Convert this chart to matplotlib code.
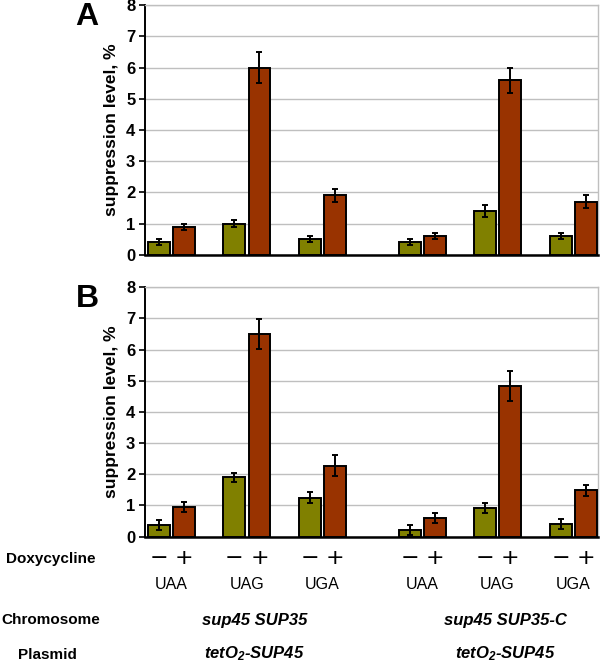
import matplotlib.pyplot as plt
import numpy as np

plt.rcParams['font.family'] = ['Liberation Sans', 'DejaVu Sans']
plt.rcParams['mathtext.fontset'] = 'custom'
plt.rcParams['mathtext.it'] = 'Liberation Sans:bold:italic'
plt.rcParams['mathtext.rm'] = 'Liberation Sans:bold:italic'

codons = ["UAA", "UAG", "UGA", "UAA", "UAG", "UGA"]
strains = ["sup45 SUP35", "sup45 SUP35-C"]
plasmid = r"$tetO_2$-SUP45"

# panel A
a_minus = [0.4, 1.0, 0.5, 0.4, 1.4, 0.6]
a_minus_err = [0.1, 0.1, 0.1, 0.1, 0.2, 0.1]
a_plus = [0.9, 6.0, 1.9, 0.6, 5.6, 1.7]
a_plus_err = [0.1, 0.5, 0.2, 0.1, 0.4, 0.2]

# panel B
b_minus = [0.37, 1.9, 1.25, 0.21, 0.92, 0.4]
b_minus_err = [0.17, 0.15, 0.17, 0.16, 0.17, 0.16]
b_plus = [0.94, 6.5, 2.28, 0.6, 4.84, 1.49]
b_plus_err = [0.16, 0.47, 0.33, 0.17, 0.48, 0.17]

green = "#808000"
red = "#993300"

x = np.array([0, 1, 2, 3.32, 4.32, 5.32])
w = 0.29
off = 0.166

fig = plt.figure(figsize=(6, 6.65), dpi=100)
axA = fig.add_axes([0.2417, 0.617, 0.755, 0.375])
axB = fig.add_axes([0.2417, 0.193, 0.755, 0.375])


def draw(ax, mn, mn_e, pl, pl_e, letter, ly):
    ek = dict(elinewidth=1.4, capthick=1.4, ecolor="black")
    ax.bar(x - off, mn, w, yerr=mn_e, color=green, edgecolor="black",
           linewidth=1.4, capsize=2, error_kw=ek, zorder=3)
    ax.bar(x + off, pl, w, yerr=pl_e, color=red, edgecolor="black",
           linewidth=1.4, capsize=2, error_kw=ek, zorder=3)
    ax.set_xlim(-0.35, 5.65)
    ax.set_ylim(0, 8)
    ax.set_yticks(range(0, 9))
    ax.yaxis.grid(True, color="#bfbfbf", linewidth=1)
    ax.set_axisbelow(True)
    ax.set_xticks([])
    for s in ["top", "right"]:
        ax.spines[s].set_color("#bfbfbf")
        ax.spines[s].set_linewidth(1)
    ax.spines["left"].set_linewidth(1.4)
    ax.spines["bottom"].set_linewidth(1.8)
    ax.tick_params(axis="y", direction="out", length=4, width=1.2, pad=3,
                   labelsize=12)
    for t in ax.get_yticklabels():
        t.set_fontweight("bold")
    ax.set_ylabel("suppression level, %", fontsize=12.5, fontweight="bold",
                  labelpad=5)
    ax.text(-0.128, ly, letter, transform=ax.transAxes, fontsize=23,
            fontweight="bold", ha="center", va="center")


draw(axA, a_minus, a_minus_err, a_plus, a_plus_err, "A", 0.955)
draw(axB, b_minus, b_minus_err, b_plus, b_plus_err, "B", 0.955)

# labels below the chart
trans = axB.get_xaxis_transform()
for xi, cod in zip(x, codons):
    axB.text(xi - off, -0.085, "\u2212", transform=trans, ha="center",
             va="center", fontsize=16, family="DejaVu Sans", clip_on=False)
    axB.text(xi + off, -0.085, "+", transform=trans, ha="center",
             va="center", fontsize=16, family="DejaVu Sans", clip_on=False)
    axB.text(xi, -0.19, cod, transform=trans, ha="center", va="center",
             fontsize=11.5, clip_on=False)

for xi, st in zip([x[1] + 0.1, x[4] + 0.1], strains):
    axB.text(xi, -0.335, st, transform=trans, ha="center", va="center",
             fontsize=12, fontweight="bold", style="italic", clip_on=False)
    axB.text(xi, -0.47, plasmid, transform=trans, ha="center", va="center",
             fontsize=12, fontweight="bold", style="italic", clip_on=False)

fig.text(51 / 600, 1 - 559 / 665, "Doxycycline", ha="center", va="center",
         fontsize=11, fontweight="bold")
fig.text(51 / 600, 1 - 620 / 665, "Chromosome", ha="center", va="center",
         fontsize=11, fontweight="bold")
fig.text(47 / 600, 1 - 655 / 665, "Plasmid", ha="center", va="center",
         fontsize=11, fontweight="bold")

fig.savefig("out.png", dpi=100)
